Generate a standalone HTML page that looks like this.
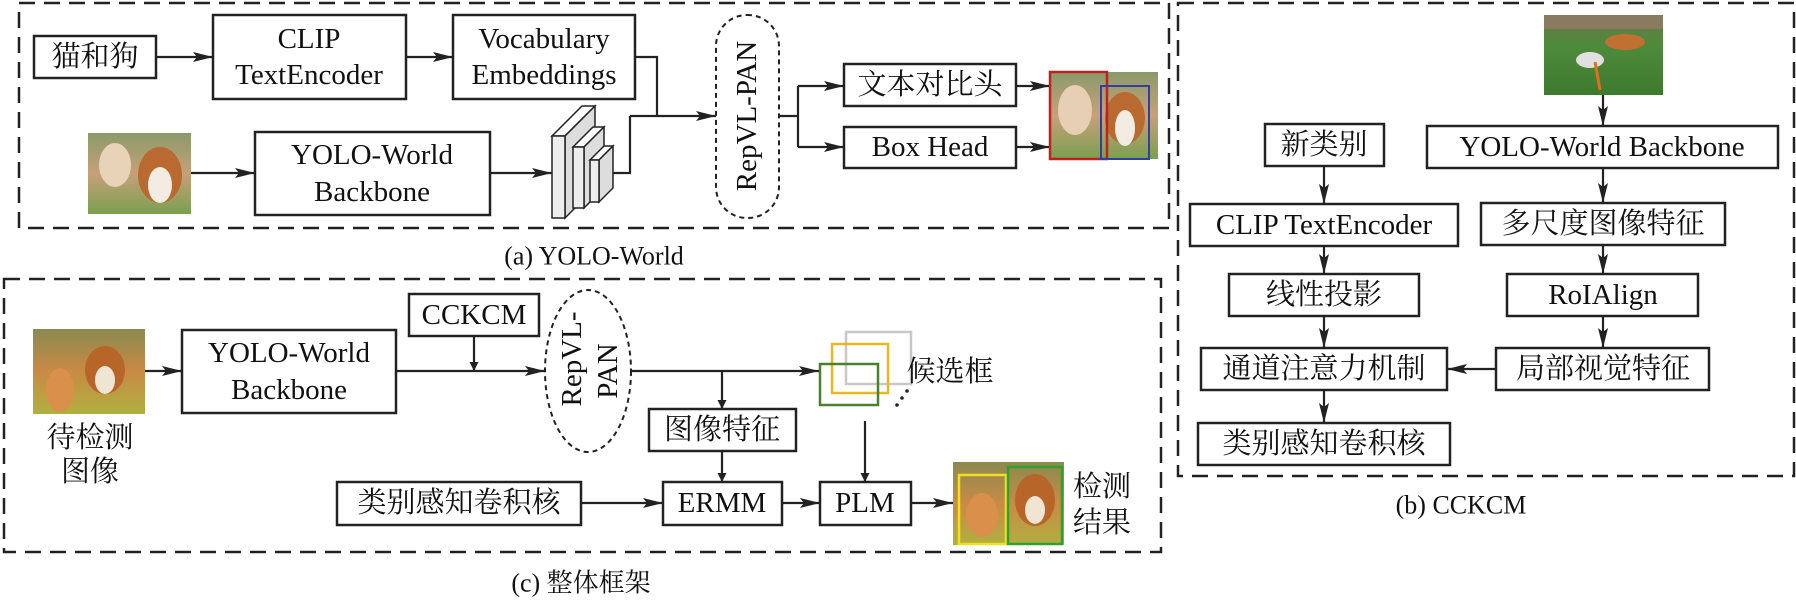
<!DOCTYPE html>
<html><head><meta charset="utf-8"><style>
html,body{margin:0;padding:0;background:#fff;}
svg{display:block;}
text{font-family:"Liberation Serif","Noto Serif CJK SC","Noto Sans CJK SC",serif;font-size:29px;fill:#111;text-anchor:middle;dominant-baseline:central;}
.b{fill:#fff;stroke:#222;stroke-width:2.5;}
.l{stroke:#222;stroke-width:2.2;fill:none;}
.d{fill:none;stroke:#222;stroke-width:2.5;stroke-dasharray:16 9;}
.dd{fill:#fff;stroke:#222;stroke-width:2;stroke-dasharray:5 4;}
</style></head><body>
<svg width="1796" height="600" viewBox="0 0 1796 600" xmlns="http://www.w3.org/2000/svg">
<defs>
<marker id="a" viewBox="0 0 10 10" refX="10" refY="5" markerWidth="9" markerHeight="9" markerUnits="userSpaceOnUse" orient="auto"><path d="M0,0 L10,5 L0,10 z" fill="#222"/></marker>
<marker id="A" viewBox="0 0 20 10" refX="20" refY="5" markerWidth="20" markerHeight="10" markerUnits="userSpaceOnUse" orient="auto"><path d="M0,0 L20,5 L0,10 L4,5 z" fill="#222"/></marker>
<linearGradient id="g1" x1="0" y1="0" x2="0" y2="1"><stop offset="0" stop-color="#8a9a6a"/><stop offset="0.5" stop-color="#c7a07a"/><stop offset="1" stop-color="#7aa050"/></linearGradient>
<linearGradient id="g2" x1="0" y1="0" x2="0" y2="1"><stop offset="0" stop-color="#6a7a4a"/><stop offset="0.4" stop-color="#4d8a3a"/><stop offset="1" stop-color="#3e7a2e"/></linearGradient>
<linearGradient id="g3" x1="0" y1="0" x2="0" y2="1"><stop offset="0" stop-color="#8a8a50"/><stop offset="0.5" stop-color="#c98a45"/><stop offset="1" stop-color="#b0b040"/></linearGradient>
</defs>

<!-- (a) -->
<rect class="d" x="19" y="3" width="1150" height="225"/>
<rect class="b" x="34" y="36" width="122" height="42"/><text x="95" y="57">猫和狗</text>
<rect class="b" x="213" y="15" width="193" height="84"/><text x="309" y="39">CLIP</text><text x="309" y="75">TextEncoder</text>
<rect class="b" x="453" y="15" width="182" height="84"/><text x="544" y="39">Vocabulary</text><text x="544" y="75">Embeddings</text>
<line class="l" x1="156" y1="57" x2="213" y2="57" marker-end="url(#A)"/>
<line class="l" x1="406" y1="57" x2="453" y2="57" marker-end="url(#A)"/>
<rect x="88" y="133" width="103" height="81" fill="url(#g1)"/>
<ellipse cx="115" cy="165" rx="16" ry="22" fill="#e8d2b8"/><ellipse cx="160" cy="175" rx="22" ry="28" fill="#b86a30"/><ellipse cx="160" cy="185" rx="12" ry="18" fill="#f3ece2"/>
<rect class="b" x="255" y="132" width="235" height="83"/><text x="372" y="155">YOLO-World</text><text x="372" y="192">Backbone</text>
<line class="l" x1="191" y1="173" x2="255" y2="173" marker-end="url(#A)"/>
<line class="l" x1="490" y1="173" x2="552" y2="173" marker-end="url(#A)"/>
<!-- feature stack -->
<g stroke="#222" stroke-width="1.5">
<polygon points="552,136 565,136 595,106 582,106" fill="#fff"/><polygon points="565,136 595,106 595,188 565,218" fill="#ddd"/><rect x="552" y="136" width="13" height="82" fill="#eee"/>
<polygon points="573,147 584,147 604,127 593,127" fill="#fff"/><polygon points="584,147 604,127 604,188 584,208" fill="#ddd"/><rect x="573" y="147" width="11" height="61" fill="#eee"/>
<polygon points="590,160 599,160 613,146 604,146" fill="#fff"/><polygon points="599,160 613,146 613,188 599,202" fill="#ddd"/><rect x="590" y="160" width="9" height="42" fill="#eee"/>
</g>
<polyline class="l" points="613,173 630,173 630,116"/>
<polyline class="l" points="635,57 657,57 657,116"/>
<line class="l" x1="630" y1="116" x2="716" y2="116" marker-end="url(#A)"/>
<rect class="dd" x="716" y="15" width="63" height="203" rx="31"/>
<text x="747" y="116" transform="rotate(-90 747 116)">RepVL-PAN</text>
<polyline class="l" points="779,116 798,116"/>
<polyline class="l" points="798,86 798,147"/>
<line class="l" x1="798" y1="86" x2="844" y2="86" marker-end="url(#A)"/>
<line class="l" x1="798" y1="147" x2="844" y2="147" marker-end="url(#A)"/>
<rect class="b" x="844" y="64" width="172" height="42"/><text x="930" y="85">文本对比头</text>
<rect class="b" x="844" y="127" width="172" height="41"/><text x="930" y="147">Box Head</text>
<line class="l" x1="1016" y1="86" x2="1050" y2="86" marker-end="url(#A)"/>
<line class="l" x1="1016" y1="147" x2="1050" y2="147" marker-end="url(#A)"/>
<rect x="1050" y="72" width="108" height="87" fill="url(#g1)"/>
<ellipse cx="1075" cy="110" rx="17" ry="25" fill="#e6cfb2"/><ellipse cx="1125" cy="118" rx="20" ry="26" fill="#b86a30"/><ellipse cx="1125" cy="128" rx="10" ry="18" fill="#f3ece2"/>
<rect x="1050" y="72" width="57" height="87" fill="none" stroke="#c02020" stroke-width="2.5"/>
<rect x="1101" y="86" width="48" height="73" fill="none" stroke="#3040a0" stroke-width="2"/>
<text x="594" y="256" style="font-size:26px">(a) YOLO-World</text>

<!-- (b) -->
<rect class="d" x="1178" y="3" width="616" height="473"/>
<rect x="1544" y="15" width="119" height="80" fill="url(#g2)"/>
<rect x="1544" y="15" width="119" height="14" fill="#8a7a60"/>
<ellipse cx="1625" cy="42" rx="20" ry="8" fill="#c07030"/><ellipse cx="1590" cy="60" rx="14" ry="8" fill="#e0e0e0"/><line x1="1595" y1="62" x2="1600" y2="90" stroke="#e07020" stroke-width="3"/>
<line class="l" x1="1603" y1="95" x2="1603" y2="126" marker-end="url(#A)"/>
<rect class="b" x="1265" y="124" width="119" height="42"/><text x="1324" y="145">新类别</text>
<rect class="b" x="1427" y="126" width="351" height="42"/><text x="1602" y="147">YOLO-World Backbone</text>
<rect class="b" x="1190" y="204" width="268" height="42"/><text x="1324" y="225">CLIP TextEncoder</text>
<rect class="b" x="1481" y="203" width="244" height="42"/><text x="1603" y="224">多尺度图像特征</text>
<rect class="b" x="1229" y="274" width="190" height="42"/><text x="1324" y="295">线性投影</text>
<rect class="b" x="1507" y="274" width="191" height="42"/><text x="1603" y="295">RoIAlign</text>
<rect class="b" x="1201" y="348" width="246" height="42"/><text x="1324" y="369">通道注意力机制</text>
<rect class="b" x="1496" y="348" width="213" height="42"/><text x="1603" y="369">局部视觉特征</text>
<rect class="b" x="1198" y="423" width="252" height="42"/><text x="1324" y="444">类别感知卷积核</text>
<line class="l" x1="1324" y1="166" x2="1324" y2="204" marker-end="url(#A)"/>
<line class="l" x1="1324" y1="246" x2="1324" y2="274" marker-end="url(#A)"/>
<line class="l" x1="1324" y1="316" x2="1324" y2="348" marker-end="url(#A)"/>
<line class="l" x1="1324" y1="390" x2="1324" y2="423" marker-end="url(#A)"/>
<line class="l" x1="1603" y1="168" x2="1603" y2="203" marker-end="url(#A)"/>
<line class="l" x1="1603" y1="245" x2="1603" y2="274" marker-end="url(#A)"/>
<line class="l" x1="1603" y1="316" x2="1603" y2="348" marker-end="url(#A)"/>
<line class="l" x1="1496" y1="369" x2="1447" y2="369" marker-end="url(#A)"/>
<text x="1461" y="505" style="font-size:26px">(b) CCKCM</text>

<!-- (c) -->
<rect class="d" x="4" y="279" width="1157" height="273"/>
<rect x="33" y="329" width="112" height="85" fill="url(#g3)"/>
<ellipse cx="60" cy="390" rx="14" ry="22" fill="#d8904a"/><ellipse cx="105" cy="370" rx="20" ry="24" fill="#b8652a"/><ellipse cx="105" cy="380" rx="10" ry="14" fill="#f0e4d2"/>
<text x="90" y="438">待检测</text><text x="90" y="472">图像</text>
<rect class="b" x="182" y="330" width="214" height="83"/><text x="289" y="353">YOLO-World</text><text x="289" y="390">Backbone</text>
<line class="l" x1="145" y1="371" x2="182" y2="371" marker-end="url(#A)"/>
<rect class="b" x="409" y="294" width="130" height="42"/><text x="474" y="315">CCKCM</text>
<line class="l" x1="396" y1="371" x2="545" y2="371" marker-end="url(#A)"/>
<line class="l" x1="474" y1="336" x2="474" y2="371" marker-end="url(#a)"/>
<ellipse class="dd" cx="588" cy="371" rx="43" ry="81"/>
<text x="588" y="371" transform="rotate(-90 588 371)"><tspan x="600" dy="-16">RepVL-</tspan><tspan x="588" dy="36">PAN</tspan></text>
<line class="l" x1="631" y1="371" x2="819" y2="371" marker-end="url(#A)"/>
<line class="l" x1="722" y1="371" x2="722" y2="409" marker-end="url(#a)"/>
<rect x="846" y="332" width="65" height="52" fill="none" stroke="#c8c8c8" stroke-width="2.5"/>
<rect x="832" y="344" width="56" height="49" fill="none" stroke="#e8b820" stroke-width="2.5"/>
<rect x="820" y="364" width="58" height="41" fill="none" stroke="#4a8030" stroke-width="2.5"/>
<circle cx="897" cy="405" r="1.8" fill="#222"/><circle cx="902" cy="398" r="1.8" fill="#222"/><circle cx="907" cy="391" r="1.8" fill="#222"/>
<text x="950" y="372">候选框</text>
<rect class="b" x="649" y="409" width="147" height="42"/><text x="722" y="430">图像特征</text>
<line class="l" x1="722" y1="451" x2="722" y2="482" marker-end="url(#a)"/>
<line class="l" x1="865" y1="421" x2="865" y2="482" marker-end="url(#a)"/>
<rect class="b" x="337" y="482" width="244" height="43"/><text x="459" y="503">类别感知卷积核</text>
<rect class="b" x="663" y="482" width="119" height="43"/><text x="722" y="503">ERMM</text>
<rect class="b" x="820" y="482" width="91" height="43"/><text x="865" y="503">PLM</text>
<line class="l" x1="581" y1="503" x2="663" y2="503" marker-end="url(#A)"/>
<line class="l" x1="782" y1="503" x2="820" y2="503" marker-end="url(#A)"/>
<line class="l" x1="911" y1="503" x2="953" y2="503" marker-end="url(#A)"/>
<rect x="953" y="462" width="111" height="83" fill="url(#g3)"/>
<ellipse cx="982" cy="515" rx="16" ry="22" fill="#d8904a"/><ellipse cx="1035" cy="500" rx="20" ry="26" fill="#b8652a"/><ellipse cx="1035" cy="510" rx="10" ry="14" fill="#f0e4d2"/>
<rect x="959" y="475" width="47" height="69" fill="none" stroke="#f0e020" stroke-width="2.5"/>
<rect x="1008" y="467" width="54" height="77" fill="none" stroke="#30a030" stroke-width="2.5"/>
<text x="1102" y="487">检测</text><text x="1102" y="523">结果</text>
<text x="581" y="583" style="font-size:26px">(c) 整体框架</text>
</svg>
</body></html>
